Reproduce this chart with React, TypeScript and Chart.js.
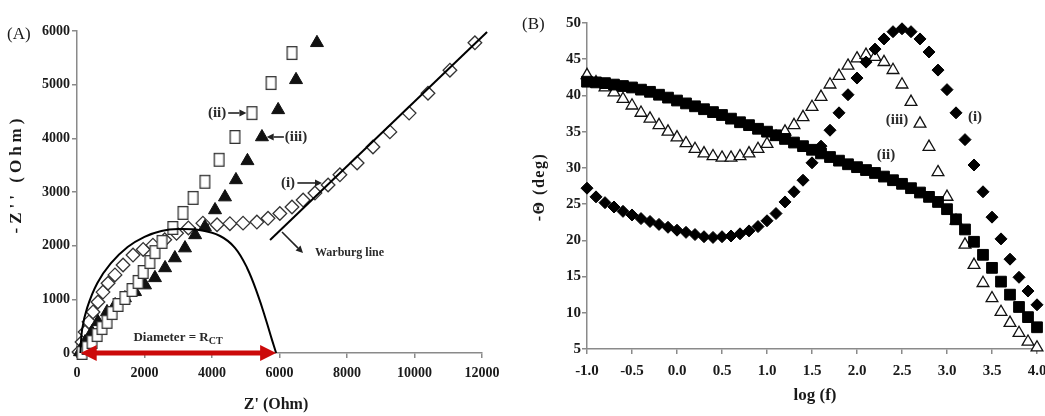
import { useEffect, useRef } from 'react';
import { Chart, registerables } from 'chart.js';

Chart.register(...registerables);

const SERIF = '"Liberation Serif", "Times New Roman", serif';
const INK = '#1a1a1a';
const AXIS = '#8a8a8a';

// ---------------- Panel A : Nyquist plot ----------------
const aXTicks = [0, 2000, 4000, 6000, 8000, 10000, 12000];
const aYTicks = [0, 1000, 2000, 3000, 4000, 5000, 6000];

// (i) open diamonds
const aIZre = [60, 150, 240, 355, 475, 620, 770, 920, 1125, 1365, 1660, 1960, 2250, 2600, 2950, 3300, 3730, 4150, 4530, 4920, 5330, 5660, 6010, 6370, 6700, 7050, 7440, 7790, 8300, 8770, 9270, 9840, 10400, 11050, 11790];
const aIZim = [20, 205, 390, 580, 765, 950, 1135, 1300, 1455, 1640, 1825, 1930, 2010, 2110, 2230, 2330, 2420, 2390, 2410, 2420, 2440, 2510, 2600, 2720, 2850, 2980, 3130, 3320, 3540, 3840, 4120, 4470, 4840, 5270, 5780];

// (ii) open squares
const aIIZre = [150, 300, 445, 595, 740, 890, 1040, 1215, 1420, 1630, 1810, 1960, 2160, 2310, 2520, 2840, 3140, 3440, 3790, 4210, 4680, 5185, 5750, 6370];
const aIIZim = [0, 95, 205, 335, 465, 580, 745, 895, 1025, 1175, 1325, 1510, 1695, 1880, 2070, 2330, 2610, 2890, 3190, 3600, 4025, 4470, 5030, 5590];

// (iii) filled triangles
const aIIIZre = [90, 240, 440, 620, 890, 1130, 1420, 1720, 2015, 2310, 2610, 2900, 3200, 3500, 3790, 4090, 4385, 4710, 5050, 5480, 5960, 6490, 7110];
const aIIIZim = [20, 205, 390, 580, 765, 895, 1025, 1140, 1265, 1400, 1585, 1770, 1955, 2200, 2350, 2665, 2905, 3225, 3580, 4025, 4530, 5090, 5780];

// fitted semicircle (R_CT)
const arcZre = [100, 150, 300, 600, 1000, 1500, 2000, 2500, 3000, 3640, 4240, 4680, 5040, 5360, 5600, 5780, 5900];
const arcZim = [0, 430, 840, 1300, 1670, 1975, 2165, 2275, 2310, 2290, 2180, 1960, 1585, 1080, 615, 240, 0];

// Warburg line
const warburgZre = [5720, 12150];
const warburgZim = [2105, 5980];

// ---------------- Panel B : Bode phase plot ----------------
const bXTicks = [-1.0, -0.5, 0.0, 0.5, 1.0, 1.5, 2.0, 2.5, 3.0, 3.5, 4.0];
const bYTicks = [5, 10, 15, 20, 25, 30, 35, 40, 45, 50];

const logF = [-1.0, -0.9, -0.8, -0.7, -0.6, -0.5, -0.4, -0.3, -0.2, -0.1, 0.0, 0.1, 0.2, 0.3, 0.4, 0.5, 0.6, 0.7, 0.8, 0.9, 1.0, 1.1, 1.2, 1.3, 1.4, 1.5, 1.6, 1.7, 1.8, 1.9, 2.0, 2.1, 2.2, 2.3, 2.4, 2.5, 2.6, 2.7, 2.8, 2.9, 3.0, 3.1, 3.2, 3.3, 3.4, 3.5, 3.6, 3.7, 3.8, 3.9, 4.0];

// (i) filled diamonds
const phaseI = [27.2, 26.0, 25.2, 24.6, 24.0, 23.5, 23.0, 22.6, 22.2, 21.8, 21.4, 21.1, 20.8, 20.5, 20.4, 20.5, 20.6, 20.9, 21.3, 21.9, 22.7, 23.7, 25.3, 26.7, 28.3, 30.7, 33.0, 35.2, 37.6, 40.1, 42.4, 44.6, 46.4, 47.8, 48.8, 49.2, 48.8, 47.8, 46.0, 43.5, 40.8, 37.6, 33.9, 30.4, 26.7, 23.2, 20.2, 17.4, 14.9, 13.0, 11.1];
// (ii) filled squares
const phaseII = [41.9, 41.8, 41.7, 41.5, 41.3, 41.1, 40.8, 40.5, 40.1, 39.7, 39.3, 38.9, 38.5, 38.1, 37.7, 37.3, 36.8, 36.3, 35.9, 35.4, 35.0, 34.5, 34.0, 33.5, 33.0, 32.5, 32.0, 31.5, 31.0, 30.5, 30.1, 29.7, 29.3, 28.8, 28.3, 27.8, 27.2, 26.6, 26.0, 25.3, 24.3, 22.9, 21.5, 19.8, 18.0, 16.2, 14.3, 12.5, 10.8, 9.4, 8.0];
// (iii) open triangles
const phaseIII = [42.8, 41.8, 41.1, 40.4, 39.5, 38.6, 37.6, 36.8, 35.9, 35.0, 34.2, 33.4, 32.6, 32.0, 31.6, 31.4, 31.4, 31.6, 32.0, 32.6, 33.3, 34.3, 35.0, 35.9, 37.0, 38.4, 39.8, 41.5, 42.7, 44.1, 45.1, 45.6, 45.3, 44.6, 43.5, 41.5, 39.1, 36.1, 32.9, 29.4, 26.0, 22.7, 19.4, 16.6, 14.1, 12.0, 10.1, 8.6, 7.2, 6.0, 5.2];

const toPts = (xs: number[], ys: number[]) => xs.map((x, i) => ({ x, y: ys[i] }));

function makeOpenRect(w: number, h: number, lw: number, stroke: string): HTMLCanvasElement {
  const c = document.createElement('canvas');
  c.width = w + 2;
  c.height = h + 2;
  const g = c.getContext('2d') as CanvasRenderingContext2D;
  g.fillStyle = '#fff';
  g.fillRect(1, 1, w, h);
  g.strokeStyle = stroke;
  g.lineWidth = lw;
  g.strokeRect(1 + lw / 2, 1 + lw / 2, w - lw, h - lw);
  return c;
}

function drawArrow(ctx: CanvasRenderingContext2D, x1: number, y1: number, x2: number, y2: number, head: number, half: number, color: string, lw: number) {
  const ang = Math.atan2(y2 - y1, x2 - x1);
  const bx = x2 - Math.cos(ang) * head;
  const by = y2 - Math.sin(ang) * head;
  ctx.strokeStyle = color;
  ctx.fillStyle = color;
  ctx.lineWidth = lw;
  ctx.beginPath();
  ctx.moveTo(x1, y1);
  ctx.lineTo(bx, by);
  ctx.stroke();
  ctx.beginPath();
  ctx.moveTo(x2, y2);
  ctx.lineTo(bx + Math.sin(ang) * half, by - Math.cos(ang) * half);
  ctx.lineTo(bx - Math.sin(ang) * half, by + Math.cos(ang) * half);
  ctx.closePath();
  ctx.fill();
}

function scaleOpts(ticks: number[], min: number, max: number, fmt: (v: number) => string, size: number, pad: number, isX: boolean, fit: number) {
  return {
    type: 'linear',
    min,
    max,
    afterBuildTicks: (s: any) => { s.ticks = ticks.map((value) => ({ value })); },
    afterFit: (s: any) => { if (isX) s.height = fit; else s.width = fit; },
    grid: { display: true, drawOnChartArea: false, drawTicks: true, tickLength: 5, color: AXIS, lineWidth: 1.5 },
    border: { display: true, color: AXIS, width: 1.5 },
    ticks: { color: INK, font: { family: SERIF, size, weight: 'bold' }, padding: pad, maxRotation: 0, autoSkip: false, callback: (v: any) => fmt(Number(v)) },
    title: { display: false },
  };
}

const annotA = {
  id: 'annotA',
  afterDatasetsDraw(chart: any) {
    const { ctx, scales: { x, y } } = chart;
    const px = (v: number) => x.getPixelForValue(v);
    const py = (v: number) => y.getPixelForValue(v);
    ctx.save();
    // red diameter arrow
    const y0 = py(0);
    const xl = px(110), xr = px(5900);
    const red = '#cc0a0a';
    ctx.strokeStyle = red; ctx.fillStyle = red; ctx.lineWidth = 5;
    ctx.beginPath(); ctx.moveTo(xl + 14, y0); ctx.lineTo(xr - 14, y0); ctx.stroke();
    ctx.beginPath(); ctx.moveTo(xl, y0); ctx.lineTo(xl + 16, y0 - 8); ctx.lineTo(xl + 16, y0 + 8); ctx.closePath(); ctx.fill();
    ctx.beginPath(); ctx.moveTo(xr, y0); ctx.lineTo(xr - 16, y0 - 8); ctx.lineTo(xr - 16, y0 + 8); ctx.closePath(); ctx.fill();

    // labels + arrows
    ctx.fillStyle = '#2a2a2a';
    ctx.font = `bold 15px ${SERIF}`;
    ctx.textAlign = 'center'; ctx.textBaseline = 'middle';
    ctx.fillText('(ii)', px(4150), py(4472));
    drawArrow(ctx, px(4480), py(4472), px(5020), py(4472), 7, 3.5, '#222', 1.6);
    ctx.fillStyle = '#2a2a2a';
    ctx.fillText('(iii)', px(6489), py(4025));
    drawArrow(ctx, px(6130), py(4025), px(5620), py(4025), 7, 3.5, '#222', 1.6);
    ctx.fillStyle = '#2a2a2a';
    ctx.fillText('(i)', px(6252), py(3168));
    drawArrow(ctx, px(6530), py(3168), px(7260), py(3168), 7, 3.5, '#222', 1.6);

    drawArrow(ctx, px(6074), py(2255), px(6696), py(1863), 7, 3.5, '#222', 1.6);
    ctx.fillStyle = '#2a2a2a';
    ctx.font = `bold 12px ${SERIF}`;
    ctx.textAlign = 'left';
    ctx.fillText('Warburg line', px(7052), py(1863));

    // Diameter = R_CT
    ctx.font = `bold 13px ${SERIF}`;
    const main = 'Diameter = R';
    const wMain = ctx.measureText(main).width;
    ctx.font = `bold 10px ${SERIF}`;
    const wSub = ctx.measureText('CT').width;
    const cx = px(2993), cy = py(300);
    const startX = cx - (wMain + wSub) / 2;
    ctx.font = `bold 13px ${SERIF}`;
    ctx.textAlign = 'left'; ctx.textBaseline = 'alphabetic';
    ctx.fillText(main, startX, cy + 4);
    ctx.font = `bold 10px ${SERIF}`;
    ctx.fillText('CT', startX + wMain, cy + 7);
    ctx.restore();
  },
  afterDraw(chart: any) {
    const ctx = chart.ctx;
    ctx.save();
    ctx.fillStyle = INK;
    ctx.font = `17px ${SERIF}`;
    ctx.textAlign = 'left'; ctx.textBaseline = 'alphabetic';
    ctx.fillText('(A)', 7, 38.5);
    ctx.font = `bold 16px ${SERIF}`;
    ctx.textAlign = 'center';
    ctx.fillText("Z' (Ohm)", 276, 409);
    ctx.translate(17, 174);
    ctx.rotate(-Math.PI / 2);
    (ctx as any).letterSpacing = '4px';
    ctx.textBaseline = 'middle';
    ctx.font = `bold 17px ${SERIF}`;
    ctx.fillText("-Z'' (Ohm)", 0, 0);
    ctx.restore();
  },
};

const annotB = {
  id: 'annotB',
  afterDatasetsDraw(chart: any) {
    const { ctx, scales: { x, y } } = chart;
    ctx.save();
    ctx.fillStyle = '#2a2a2a';
    ctx.font = `bold 15px ${SERIF}`;
    ctx.textAlign = 'center'; ctx.textBaseline = 'middle';
    ctx.fillText('(iii)', x.getPixelForValue(2.444), y.getPixelForValue(36.6));
    ctx.fillText('(i)', x.getPixelForValue(3.311), y.getPixelForValue(37.0));
    ctx.fillText('(ii)', x.getPixelForValue(2.322), y.getPixelForValue(31.8));
    ctx.restore();
  },
  afterDraw(chart: any) {
    const ctx = chart.ctx;
    ctx.save();
    ctx.fillStyle = INK;
    ctx.font = `17px ${SERIF}`;
    ctx.textAlign = 'left'; ctx.textBaseline = 'alphabetic';
    ctx.fillText('(B)', 12, 28.5);
    ctx.font = `bold 17px ${SERIF}`;
    ctx.textAlign = 'center';
    ctx.fillText('log (f)', 305, 400);
    ctx.translate(30, 187);
    ctx.rotate(-Math.PI / 2);
    (ctx as any).letterSpacing = '1.5px';
    ctx.textBaseline = 'middle';
    ctx.font = `bold 16px ${SERIF}`;
    ctx.fillText('-\u0398 (deg)', 0, 0);
    ctx.restore();
  },
};

function makeConfigA(): any {
  const openSquare = makeOpenRect(11, 14, 1.3, '#333');
  return {
    type: 'scatter',
    data: {
      datasets: [
        { label: 'fit', data: toPts(arcZre, arcZim), showLine: true, pointRadius: 0, borderColor: '#000', borderWidth: 2, tension: 0.4, fill: false, clip: false },
        { label: 'Warburg', data: toPts(warburgZre, warburgZim), showLine: true, pointRadius: 0, borderColor: '#000', borderWidth: 2, fill: false, clip: false },
        { label: '(ii)', data: toPts(aIIZre, aIIZim), pointStyle: openSquare, pointRadius: 7, clip: false },
        { label: '(iii)', data: toPts(aIIIZre, aIIIZim), pointStyle: 'triangle', pointRadius: 7.5, borderColor: '#111', backgroundColor: '#111', borderWidth: 1, clip: false },
        { label: '(i)', data: toPts(aIZre, aIZim), pointStyle: 'rectRot', pointRadius: 6.8, borderColor: '#333', backgroundColor: '#fff', borderWidth: 1.3, clip: false },
      ],
    },
    options: {
      responsive: false,
      animation: false,
      devicePixelRatio: 1,
      events: [],
      layout: { padding: { left: 0, right: 28, top: 31, bottom: 0 } },
      plugins: { legend: { display: false }, tooltip: { enabled: false } },
      scales: {
        x: scaleOpts(aXTicks, 0, 12000, (v) => String(v), 14, 7, true, 63),
        y: scaleOpts(aYTicks, 0, 6000, (v) => String(v), 14, 2, false, 77),
      },
    },
    plugins: [annotA],
  };
}

function makeConfigB(): any {
  return {
    type: 'scatter',
    data: {
      datasets: [
        { label: '(ii)', data: toPts(logF, phaseII), pointStyle: 'rect', pointRadius: 7.6, borderColor: '#000', backgroundColor: '#000', borderWidth: 1, clip: false },
        { label: '(i)', data: toPts(logF, phaseI), pointStyle: 'rectRot', pointRadius: 6, borderColor: '#000', backgroundColor: '#000', borderWidth: 1, clip: false },
        { label: '(iii)', data: toPts(logF, phaseIII), pointStyle: 'triangle', pointRadius: 6.8, borderColor: '#111', backgroundColor: '#fff', borderWidth: 1.3, clip: false },
      ],
    },
    options: {
      responsive: false,
      animation: false,
      devicePixelRatio: 1,
      events: [],
      layout: { padding: { left: 0, right: 23, top: 23, bottom: 0 } },
      plugins: { legend: { display: false }, tooltip: { enabled: false } },
      scales: {
        x: scaleOpts(bXTicks, -1, 4, (v) => v.toFixed(1), 15, 8, true, 67),
        y: scaleOpts(bYTicks, 5, 50, (v) => String(v), 15, 1, false, 77),
      },
    },
    plugins: [annotB],
  };
}

export default function App() {
  const refA = useRef<HTMLCanvasElement>(null);
  const refB = useRef<HTMLCanvasElement>(null);
  useEffect(() => {
    const a = new Chart(refA.current as HTMLCanvasElement, makeConfigA());
    const b = new Chart(refB.current as HTMLCanvasElement, makeConfigB());
    return () => { a.destroy(); b.destroy(); };
  }, []);
  return (
    <div style={{ position: 'absolute', left: 0, top: 0, width: 1045, height: 416, overflow: 'hidden', background: '#fff' }}>
      <canvas ref={refA} width={510} height={416} style={{ position: 'absolute', left: 0, top: 0, width: 510, height: 416, display: 'block' }} />
      <canvas ref={refB} width={550} height={416} style={{ position: 'absolute', left: 510, top: 0, width: 550, height: 416, display: 'block' }} />
    </div>
  );
}
